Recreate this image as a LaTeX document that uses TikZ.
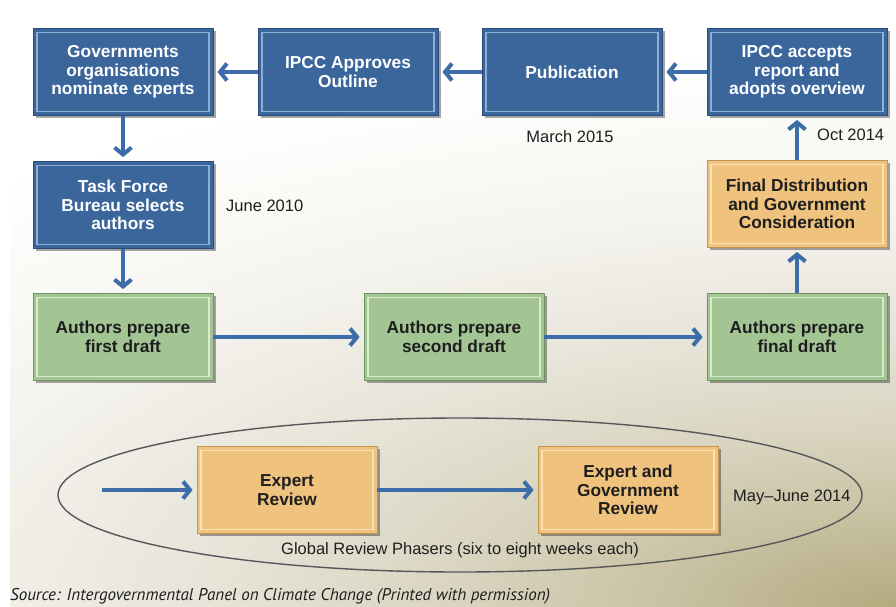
\documentclass[tikz,border=0pt]{standalone}
\usepackage{fontspec}
\setmainfont{Liberation Sans}
\newfontfamily\srcfont{PT Sans}
\usetikzlibrary{arrows.meta,shadows}

\definecolor{bluefill}{HTML}{3A669C}
\definecolor{blueedge}{HTML}{2A4C79}
\definecolor{blueinner}{HTML}{8FAED3}
\definecolor{greenfill}{HTML}{A3C594}
\definecolor{greenedge}{HTML}{6F9461}
\definecolor{greeninner}{HTML}{D8EBCD}
\definecolor{orangefill}{HTML}{EFC27E}
\definecolor{orangeedge}{HTML}{C39551}
\definecolor{orangeinner}{HTML}{FBE3B6}
\definecolor{arrowblue}{HTML}{3C6DA8}
\definecolor{textdark}{HTML}{1E1E1E}
\definecolor{ovalgray}{HTML}{55575A}
\definecolor{bgA}{HTML}{B3AA7F}
\definecolor{bgB}{HTML}{C8C1A2}
\definecolor{bgC}{HTML}{DAD5C1}
\definecolor{bgD}{HTML}{E6E3D7}
\definecolor{bgE}{HTML}{EFEDE5}
\definecolor{bgF}{HTML}{F5F4EF}
\definecolor{bgH}{HTML}{FAFAF7}
\definecolor{bgG}{HTML}{FFFFFF}

% usable area of a shading is its middle 50bp square: radius 25bp = path edge
\pgfdeclareradialshading{bgshade}{\pgfpoint{0bp}{0bp}}{%
  color(0bp)=(bgA); color(4bp)=(bgB); color(8bp)=(bgC); color(12bp)=(bgD);
  color(15.5bp)=(bgE); color(18bp)=(bgF); color(21.5bp)=(bgH); color(25bp)=(bgG);
  color(50bp)=(bgG)}

\tikzset{
  boxbase/.style={minimum width=180pt, minimum height=87pt, align=center,
    inner sep=2pt, font=\fontsize{17.3}{18.5}\selectfont\bfseries, line width=0.8pt,
    drop shadow={shadow xshift=2.5pt, shadow yshift=-2.5pt, opacity=0.35, fill=black}},
  inset/.style={path picture={\draw[#1, line width=1.6pt]
    ([shift={(4pt,4pt)}]path picture bounding box.south west) rectangle
    ([shift={(-4pt,-4pt)}]path picture bounding box.north east);}},
  bluebox/.style={boxbase, fill=bluefill, draw=blueedge, text=white, inset=blueinner},
  greenbox/.style={boxbase, fill=greenfill, draw=greenedge, text=textdark, inset=greeninner},
  orangebox/.style={boxbase, fill=orangefill, draw=orangeedge, text=textdark, inset=orangeinner},
  flow/.style={draw=arrowblue, line width=4pt, shorten >=4pt,
    -{Straight Barb[length=7pt, width=17pt]}},
  datelabel/.style={inner sep=0pt, text=textdark, font=\fontsize{16.5}{19}\selectfont},
}

\begin{document}
\begin{tikzpicture}[x=1pt, y=-1pt]
\useasboundingbox (0,0) rectangle (896,607);
% background
\fill[white] (0,0) rectangle (896,607);
\begin{scope}
  \clip (10,8) rectangle (896,607);
  \shade[shading=bgshade] (896,607) ellipse [x radius=1400, y radius=560];
\end{scope}

% review oval
\draw[ovalgray, line width=1.4pt] (460,495) ellipse [x radius=402, y radius=77];

% boxes
\node[bluebox] (gov) at (123,72) {Governments\\organisations\\nominate experts};
\node[bluebox] (approve) at (348,72) {IPCC Approves\\Outline};
\node[bluebox] (pub) at (572,72) {Publication};
\node[bluebox] (accept) at (797,72) {IPCC accepts\\report and\\adopts overview};
\node[bluebox] (task) at (123,205) {Task Force\\Bureau selects\\authors};
\node[orangebox] (dist) at (797,204) {Final Distribution\\and Government\\Consideration};
\node[greenbox] (first) at (123,337) {Authors prepare\\first draft};
\node[greenbox] (second) at (454,337) {Authors prepare\\second draft};
\node[greenbox] (final) at (797,337) {Authors prepare\\final draft};
\node[orangebox] (exp) at (287,490) {Expert\\Review};
\node[orangebox] (egr) at (628,490) {Expert and\\Government\\Review};

% connectors
\coordinate (start) at (102,490);
\draw[flow] (approve.west) -- (gov.east);
\draw[flow] (pub.west) -- (approve.east);
\draw[flow] (accept.west) -- (pub.east);
\draw[flow] (gov.south) -- (task.north);
\draw[flow] (task.south) -- (first.north);
\draw[flow] (first.east) -- (second.west);
\draw[flow] (second.east) -- (final.west);
\draw[flow] (final.north) -- (dist.south);
\draw[flow] (dist.north) -- (accept.south);
\draw[flow] (start) -- (exp.west);
\draw[flow] (exp.east) -- (egr.west);

% labels
\node[datelabel, anchor=west] (june) at (226,206) {June 2010};
\node[datelabel] (march) at (570,137) {March 2015};
\node[datelabel, anchor=west] (oct) at (817,135) {Oct 2014};
\node[datelabel, anchor=west] (may) at (733,497) {May–June 2014};
\node[datelabel] (global) at (460,550) {Global Review Phasers (six to eight weeks each)};
\node[inner sep=0pt, anchor=west, text=textdark] (src) at (10,596)
  {\resizebox{540pt}{!}{\srcfont\itshape Source: Intergovernmental Panel on Climate Change (Printed with permission)}};
\end{tikzpicture}
\end{document}
